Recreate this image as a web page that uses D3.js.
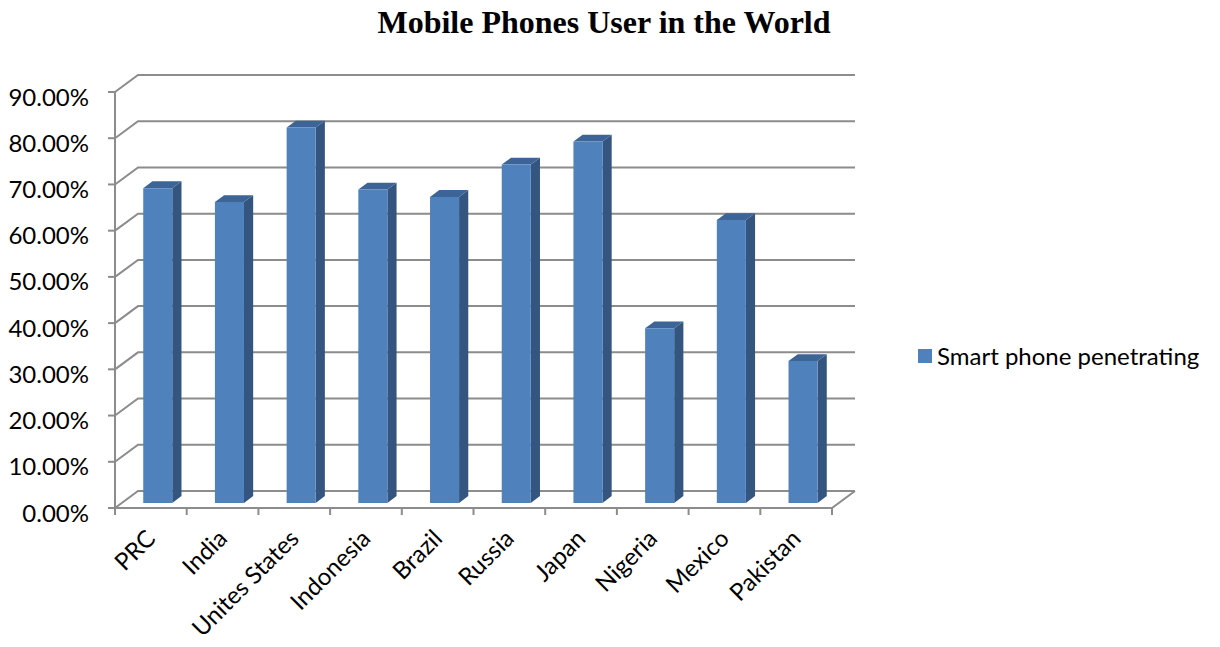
<!DOCTYPE html>
<html><head><meta charset="utf-8">
<script src="https://cdn.jsdelivr.net/npm/d3@7"></script>
<style>html,body{margin:0;padding:0;background:#fff;}svg{display:block;}</style>
</head><body>
<svg id="chart" width="1220" height="647"></svg>
<script>
const categories = ["PRC","India","Unites States","Indonesia","Brazil","Russia","Japan","Nigeria","Mexico","Pakistan"];
const seriesName = "Smart phone penetrating";
const values = [0.681,0.651,0.812,0.678,0.662,0.732,0.782,0.378,0.612,0.307];
const yTicks = [0,0.1,0.2,0.3,0.4,0.5,0.6,0.7,0.8,0.9];
const title = "Mobile Phones User in the World";

const svg = d3.select("#chart");
const W = 1220, H = 647;
svg.append("rect").attr("width",W).attr("height",H).attr("fill","#fff");

const x0 = 115, x1 = 832, yBase = 508, yTop = 92;
const ddx = 23, ddy = -17;           // full depth offset
const x = d3.scaleBand().domain(categories).range([x0,x1]).padding(0);
const y = d3.scaleLinear().domain([0,0.9]).range([yBase,yTop]);
const P = (px,py,z)=>[px+z*ddx, py+z*ddy];

const grid = "#8c8c8c";
const g = svg.append("g");

// gridlines: left-wall diagonal + back wall
yTicks.forEach(t=>{
  const yf = y(t);
  g.append("path").attr("d", d3.line()([[x0,yf],P(x0,yf,1),P(x1,yf,1)]))
   .attr("fill","none").attr("stroke",grid).attr("stroke-width",2);
});
// floor
g.append("path").attr("d", d3.line()([[x0,yBase],[x1,yBase],P(x1,yBase,1)]))
  .attr("fill","none").attr("stroke",grid).attr("stroke-width",2);
// front vertical axis
g.append("line").attr("x1",x0).attr("x2",x0).attr("y1",y(0.9)).attr("y2",yBase)
  .attr("stroke",grid).attr("stroke-width",2);
// y ticks
yTicks.forEach(t=>{
  g.append("line").attr("x1",x0-7).attr("x2",x0).attr("y1",y(t)).attr("y2",y(t))
   .attr("stroke",grid).attr("stroke-width",2);
});
// x ticks
const bounds = categories.map(c=>x(c)).concat([x1]);
bounds.forEach(bx=>{
  g.append("line").attr("x1",bx).attr("x2",bx).attr("y1",yBase).attr("y2",yBase+7)
   .attr("stroke",grid).attr("stroke-width",2);
});

// y labels
const fmt = d3.format(".2%");
yTicks.forEach(t=>{
  svg.append("text").attr("x",89).attr("y",y(t)+4).attr("text-anchor","end")
   .attr("dominant-baseline","central")
   .attr("font-family","Lato, 'Open Sans', sans-serif").attr("font-size",24)
   .attr("fill","#000").text(fmt(t));
});

// bars
const z0 = 0.3, z1 = 0.7, bw = x.bandwidth()*0.405;
const poly = pts=>"M"+pts.map(p=>p.join(",")).join("L")+"Z";
categories.forEach((c,i)=>{
  const v = values[i];
  const cx = x(c) + x.bandwidth()/2;
  const l = cx - bw/2, r = cx + bw/2;
  const yt = y(v), yb = y(0);
  const f = [P(l,yt,z0),P(r,yt,z0),P(r,yb,z0),P(l,yb,z0)];
  const side = [P(r,yt,z0),P(r,yt,z1),P(r,yb,z1),P(r,yb,z0)];
  const top = [P(l,yt,z0),P(l,yt,z1),P(r,yt,z1),P(r,yt,z0)];
  g.append("path").attr("d",poly(side)).attr("fill","#34557f");
  g.append("path").attr("d",poly(top)).attr("fill","#3c6496");
  g.append("path").attr("d",poly(f)).attr("fill","#4f81bd");
});

// x labels
categories.forEach(c=>{
  const cx = x(c)+x.bandwidth()/2;
  svg.append("text").attr("transform",`translate(${cx-6},${yBase+20}) rotate(-45)`)
   .attr("text-anchor","end").attr("dy","0.71em")
   .attr("font-family","Lato, 'Open Sans', sans-serif").attr("font-size",24)
   .attr("fill","#000").text(c);
});

// title
svg.append("text").attr("x",604).attr("y",33).attr("text-anchor","middle")
  .attr("font-family","'Liberation Serif', 'Times New Roman', serif").attr("font-weight","bold")
  .attr("font-size",32).attr("fill","#000").text(title);

// legend
svg.append("rect").attr("x",918).attr("y",349).attr("width",14).attr("height",14).attr("fill","#4f81bd");
svg.append("text").attr("x",937).attr("y",365)
  .attr("font-family","Lato, 'Open Sans', sans-serif").attr("font-size",24)
  .attr("fill","#000").text(seriesName);
</script>
</body></html>
